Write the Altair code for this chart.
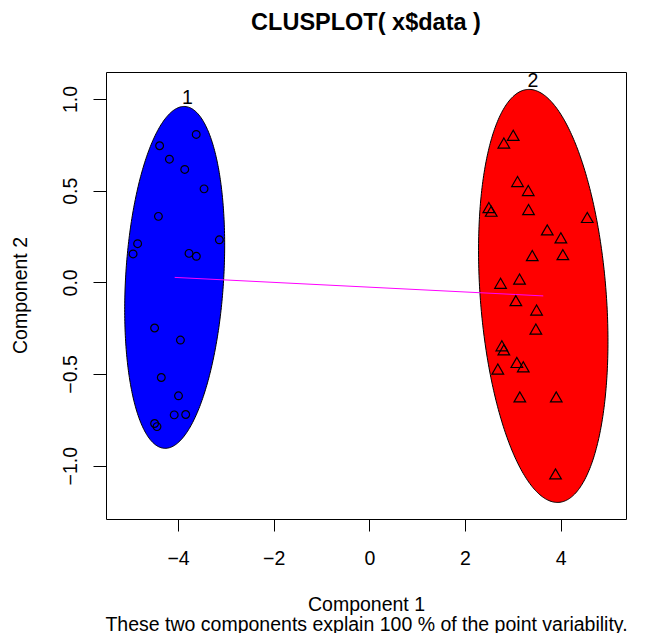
import altair as alt
import numpy as np
import pandas as pd

# ---- data ----
c1_x = [-3.62, -4.385, -4.18, -3.86, -3.456, -4.41, -3.136, -4.845, -4.94, -3.77,
        -3.617, -4.49, -3.95, -4.35, -3.99, -4.08, -3.84, -4.49, -4.44]
c1_y = [0.807, 0.745, 0.672, 0.616, 0.51, 0.36, 0.232, 0.211, 0.155, 0.158,
        0.142, -0.249, -0.315, -0.519, -0.619, -0.723, -0.721, -0.770, -0.787]
c2_x = [3.008, 2.812, 3.098, 3.322, 2.498, 2.548, 3.328, 4.556, 3.72, 4.004,
        4.046, 3.406, 2.743, 3.14, 3.063, 3.496, 3.481, 2.77, 2.812, 3.084,
        3.218, 2.686, 3.146, 3.908, 3.893]
c2_y = [0.802, 0.760, 0.550, 0.501, 0.408, 0.388, 0.397, 0.354, 0.286, 0.243,
        0.151, 0.146, -0.005, 0.018, -0.10, -0.151, -0.255, -0.346, -0.368, -0.437,
        -0.461, -0.473, -0.625, -0.625, -1.045]

clusters = ["1", "2"]
ell_cx = [-4.07, 3.636]
ell_cy = [0.027, -0.074]
ell_sx = [1.045, 1.353]
ell_sy = [0.9325, 1.1265]
ell_rho = [0.189, -0.2195]
ell_fill = ["#0000FF", "#FF0000"]
label_x = [-3.805, 3.418]
label_y = [0.975, 1.066]

x_ticks = [-4, -2, 0, 2, 4]
y_ticks = [-1.0, -0.5, 0.0, 0.5, 1.0]
x_domain = [-5.506, 5.366]
y_domain = [-1.291, 1.1475]

title_text = "CLUSPLOT( x$data )"
x_title = ["Component 1", "These two components explain 100 % of the point variability."]
y_title = "Component 2"

FONT = "Liberation Sans"

# ---- tables ----
t = np.linspace(0, 2 * np.pi, 361)
ell_tables = []
for i, k in enumerate(clusters):
    ex = ell_cx[i] + ell_sx[i] * np.cos(t)
    ey = ell_cy[i] + ell_sy[i] * (ell_rho[i] * np.cos(t) + np.sqrt(1 - ell_rho[i] ** 2) * np.sin(t))
    ell_tables.append(pd.DataFrame({"x": ex, "y": ey, "t": np.arange(len(t)), "cluster": k}))

pts1 = pd.DataFrame({"x": c1_x, "y": c1_y})
pts2 = pd.DataFrame({"x": c2_x, "y": c2_y})
seg = pd.DataFrame({"x": ell_cx, "y": ell_cy, "o": [0, 1]})
labels = pd.DataFrame({"x": label_x, "y": label_y, "lab": clusters})

x_scale = alt.Scale(domain=x_domain, nice=False, zero=False)
y_scale = alt.Scale(domain=y_domain, nice=False, zero=False)

x_axis = alt.Axis(values=x_ticks, format=".0f", grid=False, domain=False,
                  tickColor="black", tickSize=12, tickWidth=1,
                  labelPadding=33, labelBaseline="alphabetic", labelFontSize=19.5,
                  labelColor="black", labelFont=FONT, labelFlush=False, labelOverlap=False,
                  title=x_title, titleFont=FONT, titleFontSize=19.5, titleFontWeight="normal",
                  titleColor="black", titleBaseline="alphabetic", titleAlign="center",
                  titleX=260, titleY=91, titleLineHeight=20)
y_axis = alt.Axis(values=y_ticks, format=".1f", grid=False, domain=False,
                  tickColor="black", tickSize=13, tickWidth=1,
                  labelAngle=270, labelAlign="center", labelBaseline="alphabetic",
                  labelPadding=16.3, labelFontSize=19.5, labelColor="black", labelFont=FONT,
                  labelFlush=False, labelOverlap=False,
                  title=y_title, titleFont=FONT, titleFontSize=19.5, titleFontWeight="normal",
                  titleColor="black", titleAngle=270, titleBaseline="alphabetic",
                  titleAlign="center", titleX=-79.3, titleY=223)

X = alt.X("x:Q", scale=x_scale, axis=x_axis)
Y = alt.Y("y:Q", scale=y_scale, axis=y_axis)

layers = []
for i, k in enumerate(clusters):
    layers.append(
        alt.Chart(ell_tables[i]).mark_line(fill=ell_fill[i], stroke="black", strokeWidth=1)
        .encode(x=X, y=Y, order=alt.Order("t:Q"))
    )

layers.append(
    alt.Chart(seg).mark_line(color="#FF00FF", strokeWidth=1)
    .encode(x=X, y=Y, order=alt.Order("o:Q"))
)
layers.append(
    alt.Chart(pts1).mark_point(shape="circle", filled=False, stroke="black",
                               strokeWidth=1.2, size=60, opacity=1)
    .encode(x=X, y=Y)
)
layers.append(
    alt.Chart(pts2).mark_point(shape="triangle-up", filled=False, stroke="black",
                               strokeWidth=1.2, size=135, opacity=1)
    .encode(x=X, y=Y)
)
layers.append(
    alt.Chart(labels).mark_text(font=FONT, fontSize=19.5, baseline="alphabetic",
                                align="center", color="black")
    .encode(x=X, y=Y, text="lab:N")
)

chart = alt.layer(*layers).properties(
    width=520,
    height=447,
    background="white",
    autosize=alt.AutoSizeParams(type="none"),
    padding={"left": 98, "top": 64, "right": 18, "bottom": 114},
    title=alt.TitleParams(text=title_text, anchor="middle", frame="group",
                          font=FONT, fontSize=23.5, fontWeight="bold",
                          color="black", baseline="alphabetic", offset=17),
).configure_view(stroke="black", strokeWidth=1)

chart.save("out.html", embed_options={"renderer": "svg", "actions": False})
